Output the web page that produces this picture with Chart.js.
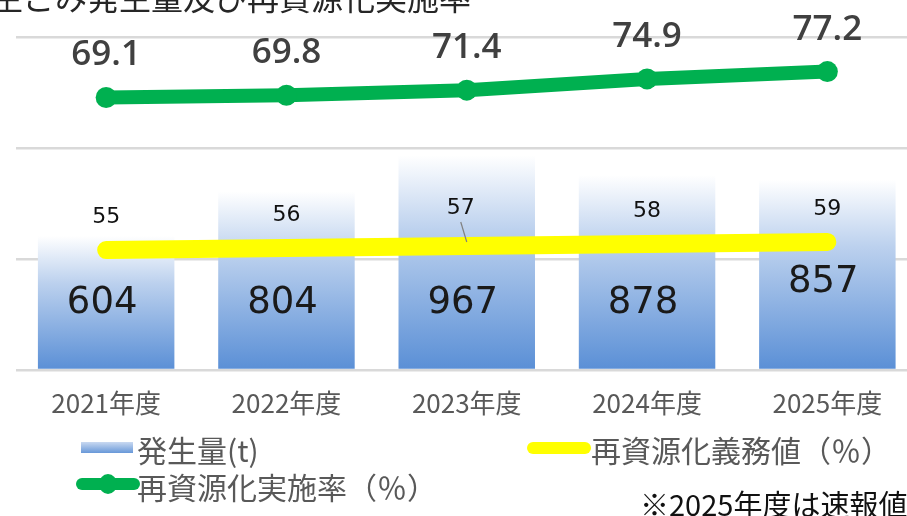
<!DOCTYPE html>
<html>
<head>
<meta charset="utf-8">
<script src="https://cdn.jsdelivr.net/npm/chart.js@4"></script>
<style>
  html, body { margin: 0; padding: 0; background: #fff; overflow: hidden; }
  #wrap { position: relative; width: 928px; height: 516px; }
</style>
</head>
<body>
<div id="wrap"><canvas id="chart"></canvas></div>
<script>
// data
var years = ['2021年度', '2022年度', '2023年度', '2024年度', '2025年度'];
var amount = [604, 804, 967, 878, 857];          // 発生量(t)
var recycleRate = [69.1, 69.8, 71.4, 74.9, 77.2]; // 再資源化実施率(%)
var dutyRate = [55, 56, 57, 58, 59];               // 再資源化義務値(%)

var titleText = '生ごみ発生量及び再資源化実施率';
var noteText = '※2025年度は速報値';
var jpFont = '"Noto Sans CJK JP", "Noto Sans", sans-serif';

function barGradient(ctx) {
    var chart = ctx.chart;
    if (!chart.chartArea || ctx.raw == null) return '#8fb0e0';
    var y = chart.scales.y;
    var top = y.getPixelForValue(ctx.raw);
    var bottom = y.getPixelForValue(0);
    var g = chart.ctx.createLinearGradient(0, top, 0, bottom);
    g.addColorStop(0, 'rgba(255,255,255,1)');
    g.addColorStop(0.35, '#bcd1ee');
    g.addColorStop(1, '#5a8fd6');
    return g;
}

// value labels, title, legend and footnote
var decorPlugin = {
    id: 'decor',
    afterDatasetsDraw: function(chart) {
        var c = chart.ctx;
        c.save();
        c.textAlign = 'center';
        c.textBaseline = 'middle';

        // bar values
        var barMeta = chart.getDatasetMeta(0);
        var base = chart.scales.y.getPixelForValue(0);
        c.font = '37px "DejaVu Sans", sans-serif';
        c.fillStyle = '#1a1a1a';
        barMeta.data.forEach(function(bar, i) {
            var ly = i === 4 ? base - 88 : base - 67;
            c.fillText(amount[i], bar.x - 4, ly);
        });

        // duty rate values
        var dutyMeta = chart.getDatasetMeta(1);
        c.font = '22px "DejaVu Sans", sans-serif';
        c.fillStyle = '#111';
        dutyMeta.data.forEach(function(pt, i) {
            var lx = i === 2 ? pt.x - 6 : pt.x;
            var ly = i === 2 ? pt.y - 38 : pt.y - 33;
            c.fillText(dutyRate[i], lx, ly);
            if (i === 2) {
                c.strokeStyle = '#808080';
                c.lineWidth = 1.2;
                c.beginPath();
                c.moveTo(lx, ly + 14);
                c.lineTo(pt.x, pt.y - 4);
                c.stroke();
            }
        });

        // recycle rate values
        var rateMeta = chart.getDatasetMeta(2);
        c.font = '600 35px "Open Sans", sans-serif';
        c.fillStyle = '#404040';
        rateMeta.data.forEach(function(pt, i) {
            c.fillText(recycleRate[i].toFixed(1), pt.x, pt.y - 42);
        });

        // clipped title at the top edge
        c.textAlign = 'left';
        c.textBaseline = 'alphabetic';
        c.font = '32px ' + jpFont;
        c.fillStyle = '#262626';
        c.fillText(titleText, -9, 10);

        // legend
        c.textBaseline = 'middle';
        c.font = '30px ' + jpFont;

        var g = c.createLinearGradient(0, 442, 0, 454);
        g.addColorStop(0, '#c9d9f1');
        g.addColorStop(1, '#5f92d6');
        c.fillStyle = g;
        c.fillRect(81, 442, 52, 11);
        c.fillStyle = '#595959';
        c.fillText(chart.data.datasets[0].label, 137, 451);

        c.lineCap = 'round';
        c.strokeStyle = '#00b050';
        c.lineWidth = 12;
        c.beginPath();
        c.moveTo(82, 484);
        c.lineTo(134, 484);
        c.stroke();
        c.fillStyle = '#00b050';
        c.beginPath();
        c.ellipse(108, 484, 9, 10, 0, 0, Math.PI * 2);
        c.fill();
        c.fillStyle = '#595959';
        c.fillText(chart.data.datasets[2].label, 137, 488);

        c.strokeStyle = '#ffff00';
        c.lineWidth = 12;
        c.beginPath();
        c.moveTo(533, 448);
        c.lineTo(585, 448);
        c.stroke();
        c.fillText(chart.data.datasets[1].label, 591, 451);

        // footnote
        c.font = '29px ' + jpFont;
        c.fillStyle = '#111';
        c.fillText(noteText, 640, 505);

        c.restore();
    }
};

new Chart(document.getElementById('chart'), {
    type: 'bar',
    data: {
        labels: years,
        datasets: [{
            type: 'bar',
            label: '発生量(t)',
            data: amount,
            yAxisID: 'y',
            backgroundColor: barGradient,
            borderWidth: 0,
            categoryPercentage: 1,
            barPercentage: 0.757,
            order: 3
        }, {
            type: 'line',
            label: '再資源化義務値（％）',
            data: dutyRate,
            yAxisID: 'yDuty',
            borderColor: '#ffff00',
            borderWidth: 18,
            borderCapStyle: 'round',
            pointRadius: 0,
            tension: 0,
            order: 2
        }, {
            type: 'line',
            label: '再資源化実施率（％）',
            data: recycleRate,
            yAxisID: 'yRate',
            borderColor: '#00b050',
            backgroundColor: '#00b050',
            borderWidth: 14,
            pointRadius: 10.5,
            pointBorderWidth: 0,
            tension: 0,
            order: 1
        }]
    },
    options: {
        responsive: true,
        maintainAspectRatio: false,
        animation: false,
        layout: { padding: { left: 16, right: 4, top: 37, bottom: 0 } },
        plugins: {
            legend: { display: false },
            tooltip: { enabled: false }
        },
        scales: {
            x: {
                grid: { display: false },
                border: { display: false },
                ticks: {
                    color: '#595959',
                    font: { family: jpFont, size: 26 },
                    padding: 10
                },
                afterFit: function(scale) { scale.height = 146; }
            },
            y: {
                position: 'left',
                min: 0,
                max: 1500,
                ticks: { display: false, stepSize: 500 },
                border: { display: false },
                grid: { color: '#d9d9d9', lineWidth: 2.5, drawTicks: false },
                afterFit: function(scale) { scale.width = 0; }
            },
            yRate: {
                display: false,
                min: -16,
                max: 88
            },
            yDuty: {
                display: false,
                min: -5,
                max: 161.5
            }
        }
    },
    plugins: [decorPlugin]
});
</script>
</body>
</html>
